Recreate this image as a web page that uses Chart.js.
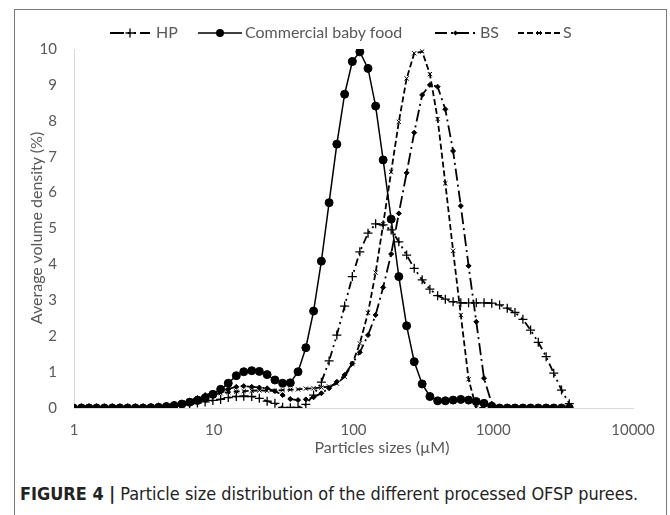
<!DOCTYPE html>
<html>
<head>
<meta charset="utf-8">
<script src="https://cdn.jsdelivr.net/npm/chart.js@4.4.0/dist/chart.umd.min.js"></script>
<style>
  body { margin: 0; background: #fff; width: 670px; height: 515px; overflow: hidden; position: relative; font-family: Lato, "Open Sans", sans-serif; }
  #frame { position: absolute; left: 14px; top: 9px; width: 653px; height: 530px; border: 1px solid #7a7a7a; box-sizing: border-box; }
  #wrap { position: absolute; left: 0; top: 0; width: 670px; height: 470px; }
  #legsvg { position: absolute; left: 0; top: 23px; }
  .leg { position: absolute; top: 22px; font-size: 16px; line-height: 20px; color: #595959; white-space: nowrap; }
  #ytitle { position: absolute; left: -114px; top: 218px; width: 300px; height: 20px; line-height: 20px; text-align: center; font-size: 16px; color: #595959; transform: rotate(-90deg); }
  #xtitle { position: absolute; left: 232px; top: 437px; width: 300px; line-height: 20px; text-align: center; font-size: 16px; color: #595959; }
  #caption { position: absolute; left: 20px; top: 484px; font-family: "Liberation Sans Narrow", "DejaVu Sans Condensed", "Liberation Sans", sans-serif; font-size: 17px; line-height: 20px; color: #222; white-space: nowrap; transform-origin: left center; }
</style>
</head>
<body>
<div id="frame"></div>
<div id="wrap"><canvas id="psd-chart" width="670" height="470"></canvas></div>

<svg id="legsvg" width="670" height="20">
  <line x1="110" y1="10" x2="150" y2="10" stroke="#000" stroke-width="1.8" stroke-dasharray="14 4 2 4 2 4"/>
  <path d="M125.5 10 H134.5 M130 5.5 V14.5" stroke="#000" stroke-width="1.3"/>
  <line x1="198" y1="10" x2="242" y2="10" stroke="#000" stroke-width="1.5"/>
  <circle cx="220" cy="10" r="4" fill="#000"/>
  <line x1="435" y1="10" x2="477" y2="10" stroke="#000" stroke-width="1.8" stroke-dasharray="12 4 2 4"/>
  <path d="M455.5 7.5 L458 10 L455.5 12.5 L453 10 Z" fill="#000"/>
  <line x1="518" y1="10" x2="560" y2="10" stroke="#000" stroke-width="1.8" stroke-dasharray="6 3"/>
  <path d="M537 8 L541 12 M541 8 L537 12" stroke="#000" stroke-width="1"/>
</svg>
<span class="leg" style="left:156px">HP</span>
<span class="leg" style="left:245px">Commercial baby food</span>
<span class="leg" style="left:480px">BS</span>
<span class="leg" style="left:563px">S</span>

<div id="ytitle">Average volume density (%)</div>
<div id="xtitle">Particles sizes (µM)</div>
<div id="caption"><b>FIGURE 4 |</b> Particle size distribution of the different processed OFSP purees.</div>

<script>
// particle size classes (µm)
const sizes = [0.991, 1.13, 1.28, 1.45, 1.65, 1.88, 2.13, 2.42, 2.75, 3.12,
  3.55, 4.03, 4.58, 5.21, 5.92, 6.72, 7.64, 8.68, 9.86, 11.2,
  12.7, 14.5, 16.4, 18.7, 21.2, 24.1, 27.4, 31.1, 35.3, 40.1,
  45.6, 51.8, 58.9, 66.9, 76.0, 86.4, 98.1, 111, 127, 144,
  163, 186, 211, 240, 272, 310, 352, 400, 454, 516,
  586, 666, 756, 859, 976, 1110, 1260, 1430, 1630, 1850,
  2100, 2390, 2710, 3080, 3500];

// volume density (%) per class
const hp = [0, 0, 0, 0, 0, 0, 0, 0, 0, 0,
  0.01, 0.02, 0.04, 0.06, 0.08, 0.11, 0.14, 0.17, 0.21, 0.24,
  0.29, 0.32, 0.33, 0.32, 0.27, 0.19, 0.13, 0.02, 0.01, 0.02,
  0.10, 0.36, 0.72, 1.31, 2.03, 2.84, 3.66, 4.35, 4.87, 5.13,
  5.10, 4.96, 4.63, 4.26, 3.89, 3.57, 3.31, 3.13, 3.03, 2.96,
  2.93, 2.93, 2.93, 2.93, 2.92, 2.87, 2.78, 2.66, 2.47, 2.17,
  1.83, 1.43, 0.97, 0.50, 0.12];

const babyFood = [0, 0, 0, 0, 0, 0, 0, 0, 0, 0,
  0.01, 0.02, 0.04, 0.07, 0.11, 0.16, 0.21, 0.28, 0.38, 0.52,
  0.69, 0.90, 1.01, 1.04, 1.02, 0.93, 0.78, 0.69, 0.70, 1.01,
  1.68, 2.70, 4.09, 5.72, 7.35, 8.74, 9.65, 9.92, 9.46, 8.41,
  6.91, 5.26, 3.66, 2.29, 1.29, 0.67, 0.32, 0.20, 0.20, 0.22,
  0.24, 0.22, 0.18, 0.13, 0.05, 0, 0, 0, 0, 0,
  0, 0, 0, 0, 0];

const bs = [0, 0, 0, 0, 0, 0, 0, 0, 0, 0,
  0.01, 0.02, 0.05, 0.09, 0.14, 0.20, 0.28, 0.36, 0.42, 0.47,
  0.53, 0.59, 0.61, 0.59, 0.57, 0.55, 0.47, 0.36, 0.25, 0.22,
  0.24, 0.30, 0.41, 0.55, 0.73, 0.92, 1.24, 1.55, 2.03, 2.59,
  3.36, 4.29, 5.42, 6.55, 7.67, 8.72, 9.00, 8.95, 8.32, 7.16,
  5.63, 3.96, 2.40, 0.83, 0.12, 0, 0, 0, 0, 0,
  0, 0, 0, 0, 0];

const s = [0, 0, 0, 0, 0, 0, 0, 0, 0, 0,
  0.01, 0.02, 0.05, 0.09, 0.14, 0.20, 0.27, 0.33, 0.38, 0.41,
  0.44, 0.46, 0.47, 0.48, 0.49, 0.48, 0.48, 0.50, 0.51, 0.52,
  0.54, 0.55, 0.57, 0.60, 0.68, 0.87, 1.23, 1.80, 2.65, 3.77,
  5.12, 6.58, 7.97, 9.18, 9.88, 9.93, 9.30, 8.05, 6.26, 4.38,
  2.59, 0.80, 0, 0, 0, 0, 0, 0, 0, 0,
  0, 0, 0, 0, 0];

const xTicks = [1, 10, 100, 1000, 10000];
const yTicks = [0, 1, 2, 3, 4, 5, 6, 7, 8, 9, 10];

const pts = arr => sizes.map((x, i) => ({ x: x, y: arr[i] }));
const axisFont = { family: "Lato", size: 15 };

new Chart(document.getElementById("psd-chart").getContext("2d"), {
  type: "line",
  data: {
    datasets: [
      {
        label: "HP", data: pts(hp),
        borderColor: "#000", backgroundColor: "#000", borderWidth: 1.8,
        borderDash: [8, 4, 2, 4, 2, 4],
        pointStyle: "cross", pointRadius: 4.5, pointBorderWidth: 1.3
      },
      {
        label: "Commercial baby food", data: pts(babyFood),
        borderColor: "#000", backgroundColor: "#000", borderWidth: 1.5,
        pointStyle: "circle", pointRadius: 4, pointBorderWidth: 1
      },
      {
        label: "BS", data: pts(bs),
        borderColor: "#000", backgroundColor: "#000", borderWidth: 1.8,
        borderDash: [12, 4, 2, 4],
        pointStyle: "rectRot", pointRadius: 2.5, pointBorderWidth: 1
      },
      {
        label: "S", data: pts(s),
        borderColor: "#000", backgroundColor: "#000", borderWidth: 1.8,
        borderDash: [6, 3],
        pointStyle: "crossRot", pointRadius: 3, pointBorderWidth: 1
      }
    ]
  },
  options: {
    responsive: false,
    animation: false,
    layout: { padding: { top: 49, right: 37, left: 0, bottom: 0 } },
    elements: { line: { tension: 0 } },
    plugins: { legend: { display: false }, tooltip: { enabled: false } },
    scales: {
      x: {
        type: "logarithmic", min: 1, max: 10000,
        afterBuildTicks: sc => { sc.ticks = xTicks.map(v => ({ value: v })); },
        afterFit: sc => { sc.height = 62; },
        grid: { display: false, drawTicks: false },
        border: { color: "#d9d9d9", width: 1 },
        ticks: { color: "#595959", font: axisFont, padding: 13, maxRotation: 0, autoSkip: false, callback: v => String(v) }
      },
      y: {
        min: 0, max: 10,
        afterBuildTicks: sc => { sc.ticks = yTicks.map(v => ({ value: v })); },
        afterFit: sc => { sc.width = 74; },
        grid: { display: false, drawTicks: false },
        border: { color: "#d9d9d9", width: 1 },
        ticks: { color: "#595959", font: axisFont, padding: 17 }
      }
    }
  }
});

// stretch caption to the width used in the figure
const cap = document.getElementById("caption");
cap.style.transform = "scaleX(" + (618 / cap.offsetWidth) + ")";
</script>
</body>
</html>
